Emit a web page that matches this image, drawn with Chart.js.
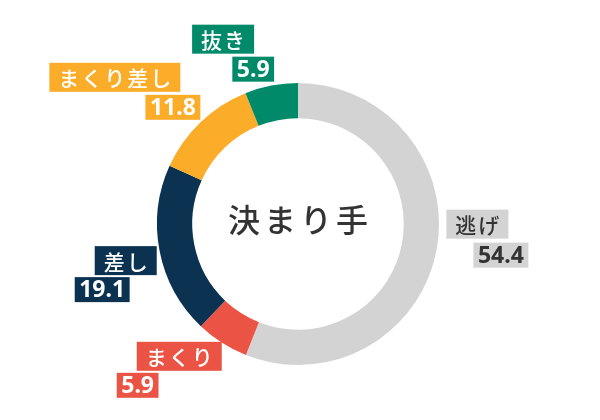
<!DOCTYPE html>
<html>
<head>
<meta charset="utf-8">
<script src="https://cdn.jsdelivr.net/npm/chart.js@4.4.1/dist/chart.umd.min.js"></script>
<style>
  html, body { margin: 0; padding: 0; background: #fff; }
  #wrap { width: 600px; height: 420px; }
</style>
</head>
<body>
<div id="wrap"><canvas id="kimarite"></canvas></div>
<script>
const labels = ['逃げ', 'まくり', '差し', 'まくり差し', '抜き'];
const values = [54.4, 5.9, 19.1, 11.8, 5.9];
const colors = ['#d3d3d3', '#eb5445', '#0b3251', '#fbac29', '#008a6a'];
const textColors = ['#333333', '#ffffff', '#ffffff', '#ffffff', '#ffffff'];
const centerTitle = '決まり手';

const jpFont = '"Noto Sans CJK JP", "Noto Sans", sans-serif';
const numFont = '"Noto Sans", "Open Sans", sans-serif';

// draw text char by char with extra spacing
function spacedWidth(ctx, text, spacing) {
  let w = 0;
  for (const ch of text) w += ctx.measureText(ch).width;
  return w + spacing * (text.length - 1);
}
function drawSpaced(ctx, text, x, y, spacing) {
  for (const ch of text) {
    ctx.fillText(ch, x, y);
    x += ctx.measureText(ch).width + spacing;
  }
}

const labelPlugin = {
  id: 'kimariteLabels',
  afterDatasetsDraw(chart) {
    const ctx = chart.ctx;
    const meta = chart.getDatasetMeta(0);
    ctx.save();
    ctx.textBaseline = 'middle';
    ctx.textAlign = 'left';

    meta.data.forEach((arc, i) => {
      const mid = (arc.startAngle + arc.endAngle) / 2;
      const dx = Math.cos(mid), dy = Math.sin(mid);
      const r = arc.outerRadius + 6;
      const px = arc.x + dx * r, py = arc.y + dy * r;

      // box sizes
      ctx.font = '500 21px ' + jpFont;
      const nameW = spacedWidth(ctx, labels[i], 2) + 18;
      const nameH = 29;
      ctx.font = 'bold 23px ' + numFont;
      const valText = values[i].toFixed(1);
      const valW = ctx.measureText(valText).width + 9;
      const valH = 25;

      let nb = {}, vb = {};
      if (dy < -0.3) {
        vb.x = px - valW + 4; vb.y = py - valH + 2;
        nb.x = vb.x + valW - 20 - nameW; nb.y = vb.y - 3 - nameH;
      } else if (dx > 0.5) {
        nb.x = px + 4; nb.y = py - 13 - nameH;
        vb.x = nb.x + nameW + 20 - valW; vb.y = nb.y + nameH + 4;
      } else {
        nb.x = px + 3 - nameW; nb.y = py - 6;
        vb.x = nb.x - 20; vb.y = nb.y + nameH + 2;
      }

      ctx.fillStyle = colors[i];
      ctx.fillRect(nb.x, nb.y, nameW, nameH);
      ctx.fillRect(vb.x, vb.y, valW, valH);

      ctx.fillStyle = textColors[i];
      ctx.font = '500 21px ' + jpFont;
      drawSpaced(ctx, labels[i], nb.x + 9, nb.y + nameH / 2 + 1, 2);
      ctx.font = 'bold 23px ' + numFont;
      ctx.fillText(valText, vb.x + 4.5, vb.y + valH / 2 + 1);
    });

    // centre title
    const a = meta.data[0];
    ctx.font = '500 32px ' + jpFont;
    ctx.fillStyle = '#333333';
    const tw = spacedWidth(ctx, centerTitle, 4);
    drawSpaced(ctx, centerTitle, a.x - tw / 2, a.y - 4, 4);
    ctx.restore();
  }
};

const ctx = document.getElementById('kimarite').getContext('2d');
const chart = new Chart(ctx, {
  type: 'doughnut',
  data: {
    labels: labels,
    datasets: [{
      data: values,
      backgroundColor: colors,
      borderWidth: 0
    }]
  },
  options: {
    responsive: true,
    maintainAspectRatio: false,
    animation: false,
    cutout: '75%',
    layout: { padding: { top: 83, bottom: 55, left: 100, right: 104 } },
    plugins: {
      legend: { display: false },
      tooltip: { enabled: false }
    }
  },
  plugins: [labelPlugin]
});
</script>
</body>
</html>
